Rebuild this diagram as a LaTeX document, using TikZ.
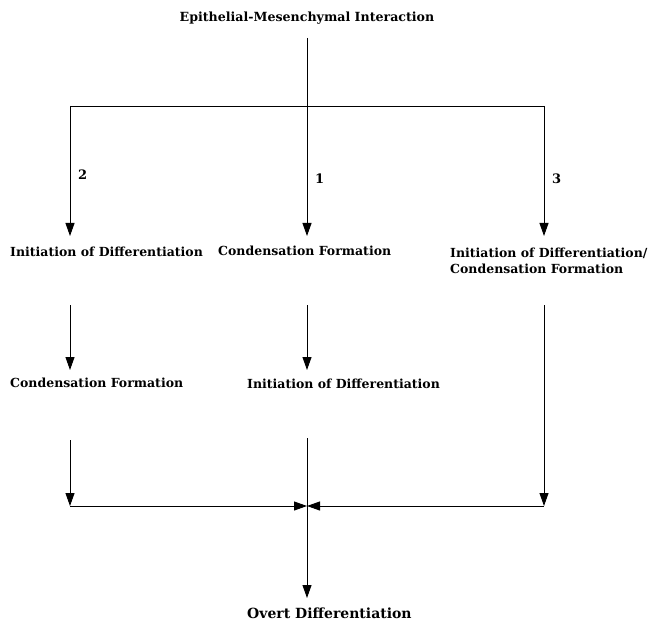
\documentclass[tikz,border=0pt]{standalone}
\usepackage{fontspec}
\setmainfont{DejaVu Serif}
\usetikzlibrary{arrows.meta}
\begin{document}
\begin{tikzpicture}[x=1pt,y=-1pt,
  stage/.style={anchor=base west,inner sep=0pt,align=left,
    font=\bfseries\fontsize{12.5}{16}\selectfont},
  headline/.style={anchor=base,inner sep=0pt,
    font=\bfseries\fontsize{12.6}{15}\selectfont},
  pathno/.style={anchor=base west,inner sep=0pt,
    font=\bfseries\fontsize{13}{15}\selectfont},
  flow/.style={-{Triangle[width=9pt,length=13pt]},line width=0.9pt}]
\useasboundingbox (0,0) rectangle (650,628);
% texts
\node[headline] (emi) at (307,22) {Epithelial-Mesenchymal Interaction};
\node[stage] (idL) at (10,256) {Initiation of Differentiation};
\node[stage] (cfM) at (218,255) {Condensation Formation};
\node[stage] (idcfR) at (450,273) {Initiation of Differentiation/\\Condensation Formation};
\node[stage] (cfL) at (10,387) {Condensation Formation};
\node[stage] (idM) at (247,388) {Initiation of Differentiation};
\node[headline,anchor=base west,font=\bfseries\fontsize{14}{16}\selectfont] (od) at (247,618) {Overt Differentiation};
% path numbers
\node[pathno] (n2) at (78,180) {2};
\node[pathno] (n1) at (315,184) {1};
\node[pathno] (n3) at (552,184) {3};
% junctions
\coordinate (top) at (307,38);
\coordinate (sL) at (70,106);
\coordinate (sR) at (544,106);
\coordinate (aL) at (70,236);
\coordinate (aM) at (307,236);
\coordinate (aR) at (544,236);
\coordinate (bL) at (70,305);
\coordinate (bM) at (307,305);
\coordinate (bR) at (544,305);
\coordinate (eL) at (70,370);
\coordinate (eM) at (307,370);
\coordinate (cL) at (70,440);
\coordinate (cM) at (307,438);
\coordinate (jL) at (70,506);
\coordinate (jR) at (544,506);
\coordinate (jM) at (307,506);
\coordinate (end) at (307,598);
% connectors
\draw[line width=0.9pt] (sL) -- (sR);
\draw[flow] (top) -- (aM);
\draw[flow] (sL) -- (aL);
\draw[flow] (sR) -- (aR);
\draw[flow] (bL) -- (eL);
\draw[flow] (bM) -- (eM);
\draw[flow] (bR) -- (jR);
\draw[flow] (cL) -- (jL);
\draw[flow] (cM) -- (end);
\draw[flow] (jL) -- (jM);
\draw[flow] (jR) -- (jM);
\end{tikzpicture}
\end{document}
